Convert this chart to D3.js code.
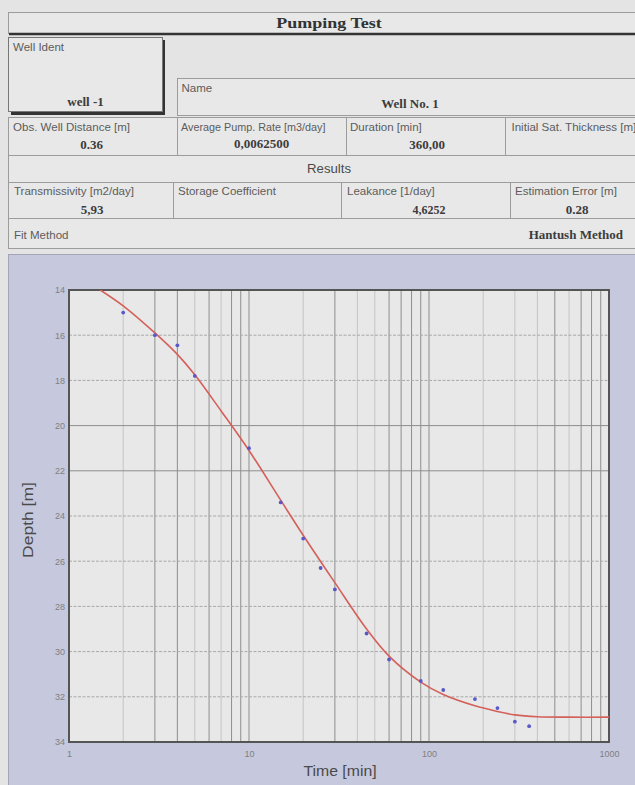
<!DOCTYPE html>
<html><head><meta charset="utf-8">
<script src="https://cdn.jsdelivr.net/npm/d3@7"></script>
<style>
html,body{margin:0;padding:0;background:#e4e4e4;}
svg{display:block;}
</style></head>
<body>
<svg id="c" width="635" height="785"></svg>
<script>
// ---- data ----
const obsTime  = [2, 3, 4, 5, 10, 15, 20, 25, 30, 45, 60, 90, 120, 180, 240, 300, 360];
const obsDepth = [15.0, 16.0, 16.45, 17.8, 21.0, 23.4, 25.0, 26.3, 27.25, 29.2, 30.35, 31.3, 31.7, 32.1, 32.5, 33.1, 33.3];
const fitTime  = [1.49, 2, 3, 4, 5, 7, 10, 15, 20, 30, 45, 60, 90, 120, 180, 240, 300, 400, 600, 1000];
const fitDepth = [14.0, 14.7, 15.9, 16.85, 17.75, 19.35, 21.1, 23.3, 24.85, 26.95, 29.0, 30.2, 31.35, 31.9, 32.4, 32.65, 32.8, 32.88, 32.9, 32.9];
const xTickLabels = [1, 10, 100, 1000];
const yTickLabels = [14, 16, 18, 20, 22, 24, 26, 28, 30, 32, 34];

const svg = d3.select("#c");
const sans = "'Liberation Sans', Arial, sans-serif";
const serif = "'Liberation Serif', 'Times New Roman', serif";

function txt(x, y, t, o = {}) {
  const g = svg.append("g").attr("transform", `translate(${x},${y}) rotate(${o.rot || 0}) scale(${o.sx || 1},1)`);
  g.append("text").attr("text-anchor", o.anchor || "start")
    .attr("font-family", o.family || sans).attr("font-weight", o.weight || "normal")
    .attr("font-size", o.size || 10).attr("fill", o.fill || "#555").text(t);
  return g;
}

// ---- header table ----
const lineCol = "#9c9c9c";
function rect(x, y, w, h, opts = {}) {
  svg.append("rect").attr("x", x).attr("y", y).attr("width", w).attr("height", h)
    .attr("fill", opts.fill || "#e8e8e8").attr("stroke", opts.stroke || lineCol).attr("stroke-width", opts.sw || 1);
}
const label = (x, y, t) => txt(x, y, t, {size: 10.5, sx: 1.1, fill: "#5c5c5c"});
const value = (x, y, t, anchor = "middle", size = 13) =>
  txt(x, y, t, {family: serif, weight: "bold", size: size, fill: "#3c3c3c", anchor: anchor});

// Title
rect(8.5, 12.5, 640, 21);
svg.append("line").attr("x1", 9).attr("x2", 640).attr("y1", 34).attr("y2", 34).attr("stroke", "#333").attr("stroke-width", 2.5);
txt(329, 28, "Pumping Test", {family: serif, weight: "bold", size: 15, sx: 1.2, anchor: "middle", fill: "#333"});

// Well ident box with shadow
svg.append("rect").attr("x", 11).attr("y", 40).attr("width", 154).attr("height", 75).attr("fill", "#333");
rect(8.5, 37.5, 154, 74, {stroke: "#777"});
label(13, 51, "Well Ident");
value(85.5, 106, "well -1");

// Name box
rect(177.5, 78.5, 470, 37);
label(181.5, 92, "Name");
value(410, 108, "Well No. 1");

// Row 3
const r3y = 117.5, r3h = 38;
rect(8.5, r3y, 169, r3h);
rect(177.5, r3y, 169, r3h);
rect(346.5, r3y, 159, r3h);
rect(505.5, r3y, 140, r3h);
label(13, 131, "Obs. Well Distance [m]");
value(91.5, 149, "0.36");
txt(181, 131, "Average Pump. Rate [m3/day]", {size: 10.5, sx: 1.03, fill: "#5c5c5c"});
value(261.5, 148, "0,0062500");
label(350, 131, "Duration [min]");
value(427, 149, "360,00");
label(511.5, 131, "Initial Sat. Thickness [m]");

// Results row
rect(8.5, 155.5, 640, 27);
txt(329, 173, "Results", {size: 12, sx: 1.1, anchor: "middle", fill: "#4a4a4a"});

// Row 5
const r5y = 182.5, r5h = 36;
rect(8.5, r5y, 165, r5h);
rect(173.5, r5y, 168, r5h);
rect(341.5, r5y, 169, r5h);
rect(510.5, r5y, 140, r5h);
label(14, 195, "Transmissivity [m2/day]");
value(92, 214, "5,93");
label(178, 195, "Storage Coefficient");
label(347, 195, "Leakance [1/day]");
value(429, 214, "4,6252", "middle", 12);
label(515, 195, "Estimation Error [m]");
value(577, 214, "0.28");

// Fit method row
rect(8.5, 218.5, 640, 30);
label(14, 239, "Fit Method");
value(623, 239, "Hantush Method", "end", 13);

// ---- plot panel ----
svg.append("rect").attr("x", 8.5).attr("y", 254.5).attr("width", 640).attr("height", 540)
  .attr("fill", "#c6c8dd").attr("stroke", "#a4a6b8");

const m = {l: 69, r: 609, t: 290, b: 742};
const x = d3.scaleLog().domain([1, 1000]).range([m.l, m.r]);
const y = d3.scaleLinear().domain([14, 34]).range([m.t, m.b]);

svg.append("rect").attr("x", m.l).attr("y", m.t).attr("width", m.r - m.l).attr("height", m.b - m.t).attr("fill", "#e8e8e8");

// vertical grid
const g = svg.append("g");
const minor = [];
[1, 10, 100].forEach(d => { for (let k = 2; k <= 9; k++) minor.push(d * k); });
const darkMinor = [3, 4, 6, 8, 9, 30, 60, 70, 80, 90, 500, 700, 800, 900];
g.selectAll(".vmin").data(minor).enter().append("line")
  .attr("x1", d => x(d)).attr("x2", d => x(d)).attr("y1", m.t).attr("y2", m.b)
  .attr("stroke", d => (darkMinor.includes(d) ? "#8e8e8e" : "#c4c4c4")).attr("stroke-width", 1);
g.selectAll(".vmaj").data(xTickLabels).enter().append("line")
  .attr("x1", d => x(d)).attr("x2", d => x(d)).attr("y1", m.t).attr("y2", m.b)
  .attr("stroke", "#8e8e8e").attr("stroke-width", 1);
// horizontal grid
g.selectAll(".h").data(yTickLabels.slice(1, -1)).enter().append("line")
  .attr("x1", m.l).attr("x2", m.r).attr("y1", d => y(d)).attr("y2", d => y(d))
  .attr("stroke", d => (d === 20 || d === 22) ? "#8e8e8e" : "#a8a8a8")
  .attr("stroke-dasharray", d => (d === 20 || d === 22) ? null : "3,1.5").attr("stroke-width", 1);

// frame
svg.append("rect").attr("x", m.l).attr("y", m.t).attr("width", m.r - m.l).attr("height", m.b - m.t)
  .attr("fill", "none").attr("stroke", "#555").attr("stroke-width", 2);

// axes
const xAxis = d3.axisBottom(x).tickValues(xTickLabels).tickFormat(d3.format("d")).tickSize(0).tickPadding(9);
const xg = svg.append("g").attr("transform", `translate(0,${m.b})`).call(xAxis);
const yAxis = d3.axisLeft(y).tickValues(yTickLabels).tickSize(0).tickPadding(4);
const yg = svg.append("g").attr("transform", `translate(${m.l},0)`).call(yAxis);
[xg, yg].forEach(a => {
  a.select(".domain").remove();
  a.selectAll("text").attr("font-family", sans).attr("font-size", 9).attr("fill", "#808080");
});

txt(340, 776, "Time [min]", {size: 14, sx: 1.13, anchor: "middle", fill: "#4a4a4a"});
txt(33, 520, "Depth [m]", {size: 14, sx: 1.25, anchor: "middle", rot: -90, fill: "#4a4a4a"});

// fit curve
const fit = fitTime.map((t, i) => [t, fitDepth[i]]);
svg.append("defs").append("clipPath").attr("id", "clip").append("rect")
  .attr("x", m.l).attr("y", m.t).attr("width", m.r - m.l).attr("height", m.b - m.t);
svg.append("path").datum(fit).attr("clip-path", "url(#clip)")
  .attr("d", d3.line().x(d => x(d[0])).y(d => y(d[1])).curve(d3.curveCatmullRom.alpha(0.5)))
  .attr("fill", "none").attr("stroke", "#d4605a").attr("stroke-width", 1.6);

// observations
svg.selectAll(".pt").data(obsTime.map((t, i) => [t, obsDepth[i]])).enter().append("circle")
  .attr("cx", d => x(d[0])).attr("cy", d => y(d[1])).attr("r", 1.9).attr("fill", "#5858c8");
</script>
</body></html>
